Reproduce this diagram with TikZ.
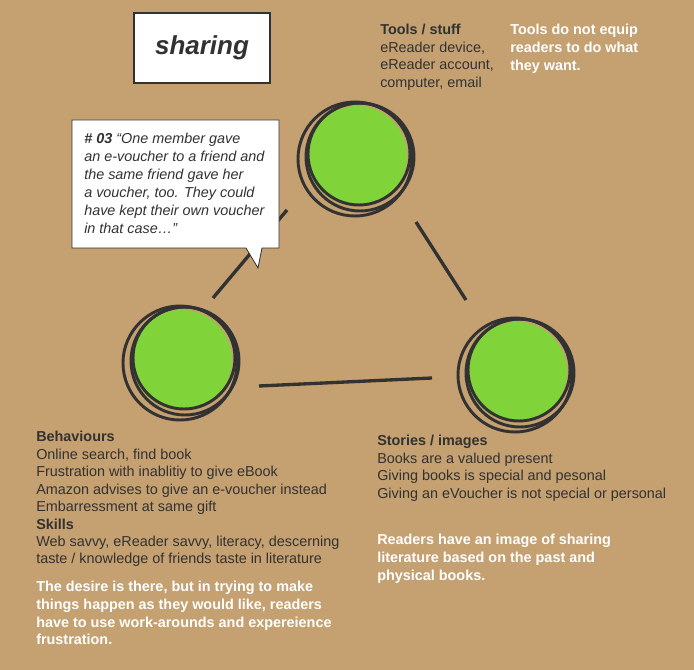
\documentclass[tikz,border=0pt]{standalone}
\usepackage{fontspec}
\setmainfont{Liberation Sans}
\definecolor{card}{RGB}{197,160,112}
\definecolor{ink}{RGB}{50,50,50}
\definecolor{grn}{RGB}{128,212,58}
\tikzset{
 txt/.style={anchor=north west,align=left,text=ink,font=\fontsize{10.8}{13.1}\selectfont,inner sep=0pt},
 wtxt/.style={anchor=north west,align=left,text=white,font=\fontsize{10.8}{13.3}\selectfont\bfseries,inner sep=0pt},
 ring/.style={draw=ink,line width=2.2pt},
 link/.style={draw=ink,line width=2.5pt}
}
\newcommand{\hub}[2]{%
 \fill[grn] (#1) circle (50);
 \draw[ring] ($(#1)+(2,-2)$) circle (51);
 \draw[ring] ($(#1)+(-2,3)$) circle (57);
 \draw[ring] ($(#1)+(3,1)$) circle (54);
 \coordinate (#2) at (#1);}
\usetikzlibrary{calc}
\begin{document}
\begin{tikzpicture}[x=0.75pt,y=-0.75pt]
\fill[card] (0,0) rectangle (694,670);
\useasboundingbox (0,0) rectangle (694,670);
\node[draw=ink,fill=white,line width=0.8pt,minimum width=136*0.75pt,minimum height=70*0.75pt,font=\fontsize{19.5}{21}\selectfont\bfseries\itshape,text=ink] (title) at (202,48) {sharing};
\hub{357,156}{top}
\hub{182,360}{left}
\hub{517,372}{right}
\draw[link] (213,298) -- (287,210);
\draw[link] (416,222) -- (466,300);
\draw[link] (259,386) -- (432,378);
\draw[fill=white,draw=ink,line width=0.6pt] (72,120) -- (279,120) -- (279,248) -- (262,248) -- (258,268) -- (246,248) -- (72,248) -- cycle;
\node[txt,font=\fontsize{10.8}{13.5}\selectfont\itshape] (quote) at (84,133) {\textbf{\# 03} “One member gave\\an e-voucher to a friend and\\the same friend gave her\\a voucher, too. They could\\have kept their own voucher\\in that case…”};
\node[txt] (tools) at (380,24) {\textbf{Tools / stuff}\\eReader device,\\eReader account,\\computer, email};
\node[wtxt] (toolsn) at (510,24) {Tools do not equip\\readers to do what\\they want.};
\node[txt] (beh) at (36,431) {\textbf{Behaviours}\\Online search, find book\\Frustration with inablitiy to give eBook\\Amazon advises to give an e-voucher instead\\Embarressment at same gift\\\textbf{Skills}\\Web savvy, eReader savvy, literacy, descerning\\taste / knowledge of friends taste in literature};
\node[wtxt] (behn) at (36,581) {The desire is there, but in trying to make\\things happen as they would like, readers\\have to use work-arounds and expereience\\frustration.};
\node[txt] (stor) at (377,435) {\textbf{Stories / images}\\Books are a valued present\\Giving books is special and pesonal\\Giving an eVoucher is not special or personal};
\node[wtxt] (storn) at (377,534) {Readers have an image of sharing\\literature based on the past and\\physical books.};
\end{tikzpicture}
\end{document}
